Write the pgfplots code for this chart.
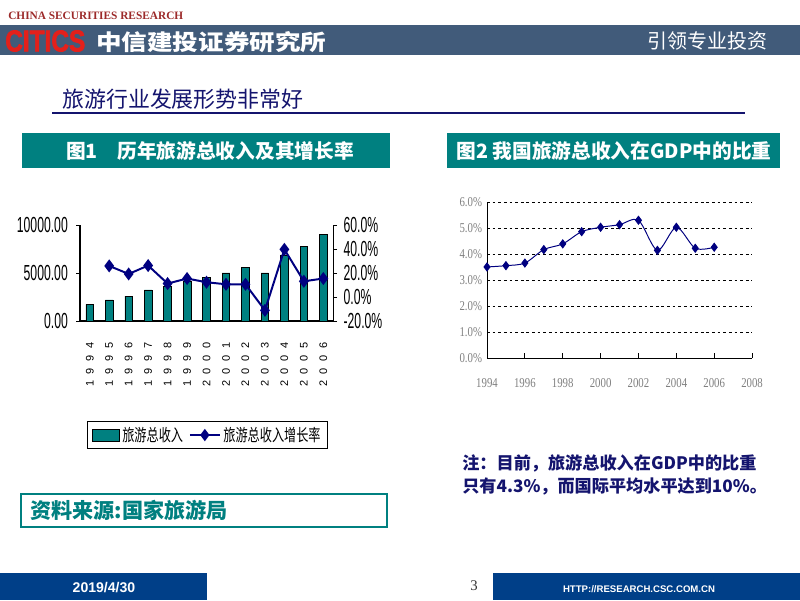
\documentclass[border=0pt]{standalone}
\usepackage{pgfplots}
\pgfplotsset{compat=1.18}
\usepackage{fontspec}
\setmainfont{Liberation Sans}
\newfontfamily\cjk{Noto Sans CJK SC}
\newfontfamily\cjknarrow[FakeStretch=0.72]{Noto Sans CJK SC}
\newfontfamily\narrowsans[FakeStretch=0.56]{Liberation Sans}
\newfontfamily\spacedsans[LetterSpace=60]{Liberation Sans}
\newfontfamily\grayserif[FakeStretch=0.8]{Liberation Serif}
\newfontfamily\serif{Liberation Serif}
\newfontfamily\heavysans[FakeBold=2.5]{Liberation Sans}
\definecolor{Teal}{HTML}{008080}
\definecolor{Navy}{HTML}{000080}
\definecolor{TitleNavy}{HTML}{14146E}
\definecolor{Banner}{HTML}{415B7A}
\definecolor{Footer}{HTML}{003F88}
\definecolor{LogoRed}{HTML}{E3201B}
\definecolor{HeadRed}{HTML}{9C2A2A}
\definecolor{TickGray}{HTML}{808080}
\newdimen\px \px=0.025cm
\pgfplotsset{
  barlegend/.style={legend image code/.code={\draw[##1] (0cm,-0.15cm) rectangle (0.675cm,0.15cm);}},
  linelegend/.style={legend image code/.code={\draw[mark repeat=2, mark phase=2, ##1, line width=1.1pt] plot coordinates {(0cm,0cm) (0.375cm,0cm) (0.75cm,0cm)};}},
}

\begin{document}
\begin{tikzpicture}[x=0.025cm, y=-0.025cm]
\useasboundingbox (0,0) rectangle (800,600);
\fill[white] (0,0) rectangle (800,600);

% header
\node[anchor=west, inner sep=0, text=HeadRed] at (8,16) {\resizebox{175\px}{!}{\serif\bfseries CHINA SECURITIES RESEARCH}};
\fill[Banner] (0,25) rectangle (800,55);
\node[anchor=west, inner sep=0, text=LogoRed] at (5,41) {\resizebox{80\px}{21\px}{\heavysans\bfseries CITICS}};
\node[anchor=west, inner sep=0, text=white] at (96,42) {\resizebox{230\px}{19\px}{\cjk\bfseries 中信建投证券研究所}};
\node[anchor=east, inner sep=0, text=white] at (768,41) {\cjk\fontsize{14.2}{15}\selectfont 引领专业投资};

\node[anchor=west, inner sep=0, text=TitleNavy] at (62,99) {\cjk\fontsize{15.6}{16}\selectfont 旅游行业发展形势非常好};
\draw[TitleNavy, line width=1.4pt] (52,113) -- (745,113);

\fill[Teal] (22,133) rectangle (390,168);
\node[text=white] at (210,150.5) {\cjk\bfseries\fontsize{14}{14}\selectfont 图1\quad 历年旅游总收入及其增长率};
\fill[Teal] (447,133) rectangle (780,168);
\node[text=white] at (614,150.5) {\cjk\bfseries\fontsize{14}{14}\selectfont 图2 我国旅游总收入在GDP中的比重};

% chart 1
\coordinate (c1) at (80,321);
\begin{axis}[
  at={(c1)}, anchor=south west, scale only axis,
  width=6.325cm, height=2.4cm,
  xmin=-0.5, xmax=12.5, ymin=0, ymax=10000,
  scaled y ticks=false,
  axis x line*=bottom, axis y line*=left,
  axis line style={-, black, line width=0.8pt},
  xtick={0,...,12},
  xticklabels={1994,1995,1996,1997,1998,1999,2000,2001,2002,2003,2004,2005,2006},
  xtick style={draw=none},
  minor xtick={-0.5,0.5,...,12.5},
  tick align=inside, major tick length=-0.1cm, minor tick length=0.1cm,
  every tick/.style={black, line width=0.6pt},
  ytick={0,5000,10000}, yticklabels={0.00,5000.00,10000.00},
  yticklabel style={xshift=-0.18cm, font=\narrowsans\fontsize{15.5}{15.5}\selectfont},
  xticklabel style={yshift=-0.42cm, rotate=90, anchor=east, font=\spacedsans\fontsize{7.8}{8}\selectfont},
]
\addplot[ybar, bar width=0.19cm, fill=Teal, draw=black, line width=0.5pt] coordinates {
  (0,1740) (1,2190) (2,2600) (3,3230) (4,3570) (5,4130) (6,4580)
  (7,5000) (8,5590) (9,5000) (10,6880) (11,7780) (12,9060)};
\end{axis}
\begin{axis}[
  at={(c1)}, anchor=south west, scale only axis,
  width=6.325cm, height=2.4cm,
  xmin=-0.5, xmax=12.5, ymin=-20, ymax=60,
  axis x line=none, axis y line*=right,
  axis line style={-, black, line width=0.8pt},
  ytick={-20,0,20,40,60}, yticklabels={-20.0\%,0.0\%,20.0\%,40.0\%,60.0\%},
  tick align=outside, major tick length=0.1cm,
  every tick/.style={black, line width=0.6pt},
  yticklabel style={xshift=0.04cm, font=\narrowsans\fontsize{15.5}{15.5}\selectfont},
  legend style={at={(0.504,-1.1875)}, anchor=center, draw=black, line width=0.8pt,
    legend columns=2, font=\cjknarrow\fontsize{12}{12}\selectfont,
    /tikz/every even column/.append style={column sep=0.08cm}},
]
\addlegendimage{fill=Teal, draw=black, line width=0.6pt, barlegend}
\addlegendentry{旅游总收入}
\addplot[Navy, line width=1.4pt, mark=diamond*, mark size=3.5pt, mark options={solid, fill=Navy}, linelegend]
  coordinates {
  (1,25.9) (2,19.2) (3,26.2) (4,11.2) (5,15.4) (6,12.3) (7,10.6)
  (8,10.6) (9,-11.1) (10,39.7) (11,13.1) (12,15.4)};
\addlegendentry{旅游总收入增长率}
\end{axis}

% chart 2
\coordinate (c2) at (487,358);
\begin{axis}[
  at={(c2)}, anchor=south west, scale only axis,
  width=6.625cm, height=3.89cm,
  xmin=1994, xmax=2008, ymin=0, ymax=6,
  axis x line*=bottom, axis y line*=left,
  axis line style={-, black, line width=0.7pt},
  xtick={1994,1996,...,2008},
  xticklabels={1994,1996,1998,2000,2002,2004,2006,2008},
  ytick={0,...,6}, yticklabels={0.0\%,1.0\%,2.0\%,3.0\%,4.0\%,5.0\%,6.0\%},
  ymajorgrids, grid style={black, dash pattern=on 2pt off 2pt, line width=0.6pt},
  tick align=inside, major tick length=0.12cm, ytick style={draw=none},
  xtick style={black, line width=0.6pt},
  xticklabel style={yshift=-0.4cm, font=\grayserif\fontsize{9.6}{10}\selectfont, text=TickGray},
  yticklabel style={font=\grayserif\fontsize{9.6}{10}\selectfont, text=TickGray},
]
\addplot[Navy, line width=0.7pt, smooth, mark=diamond*, mark size=2.8pt, mark options={fill=Navy}] coordinates {
  (1994,3.51) (1995,3.56) (1996,3.66) (1997,4.18) (1998,4.40) (1999,4.87) (2000,5.04)
  (2001,5.14) (2002,5.31) (2003,4.15) (2004,5.04) (2005,4.23) (2006,4.27)};
\end{axis}

% source and note
\draw[Teal, line width=0.8pt] (21,494) rectangle (387,527);
\node[anchor=west, text=Teal, inner sep=0] at (30,510.5) {\cjk\bfseries\fontsize{15}{15}\selectfont 资料来源:国家旅游局};
\node[anchor=west, text=TitleNavy, inner sep=0] at (462,463) {\cjk\bfseries\fontsize{12.2}{13}\selectfont 注：目前，旅游总收入在GDP中的比重};
\node[anchor=west, text=TitleNavy, inner sep=0] at (462,486) {\cjk\bfseries\fontsize{12.2}{13}\selectfont 只有4.3\%，而国际平均水平达到10\%。};

% footer
\fill[Footer] (0,573) rectangle (207,600);
\node[text=white] at (104,588) {\bfseries\fontsize{10}{10}\selectfont 2019/4/30};
\node[text=black!80] at (474,586) {\serif\fontsize{10.5}{11}\selectfont 3};
\fill[Footer] (493,573) rectangle (800,600);
\node[text=white, inner sep=0] at (639,589) {\resizebox{152\px}{!}{\bfseries HTTP://RESEARCH.CSC.COM.CN}};
\end{tikzpicture}
\end{document}
